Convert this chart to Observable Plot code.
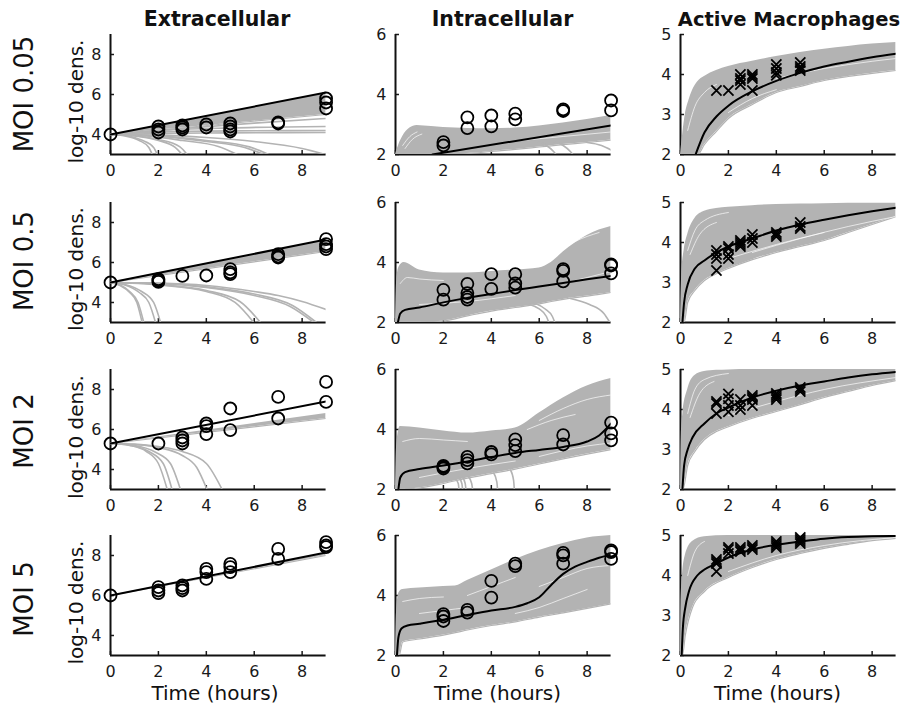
<!DOCTYPE html>
<html>
<head>
<meta charset="utf-8">
<script src="https://cdn.jsdelivr.net/npm/d3@7"></script>
<script src="https://cdn.jsdelivr.net/npm/@observablehq/plot@0.6"></script>
<style>
  html, body { margin: 0; padding: 0; background: #fff; }
  #root { position: relative; width: 913px; height: 706px; overflow: hidden; background: #fff; }
</style>
</head>
<body>
<div id="root"></div>
<script>
// ---------------- DATA ----------------
const colTitles = ["Extracellular", "Intracellular", "Active Macrophages"];
const rowTitles = ["MOI 0.05", "MOI 0.5", "MOI 2", "MOI 5"];
const xTicks = [0, 2, 4, 6, 8];
const yTicksExt = [4, 6, 8];
const yTicksInt = [2, 4, 6];
const yTicksMac = [2, 3, 4, 5];
const yDomExt = [3, 9];
const yDomInt = [2, 6];
const yDomMac = [2, 5];
const yLabel = "log-10 dens.";
const xLabel = "Time (hours)";

// ---- MOI 0.05 ----
const ext005_black = [[0,4],[9,6.1]];
const ext005_band = [[0,4,4],[4.5,4.5,5.02],[9,5.0,6.05]];
const ext005_gray = [
  [[0,4],[3,4.3],[6,4.57],[9,4.8]],
  [[0,4],[2,4.2],[5,4.33],[9,4.4]],
  [[0,4],[2,4.12],[5,4.18],[9,4.2]],
  [[0,4],[2,4.05],[5,4.08],[9,4.1]],
  [[0,4],[0.6,3.93],[1.2,3.7],[1.6,3.35],[1.74,3]],
  [[0,4],[0.7,3.94],[1.3,3.72],[1.8,3.35],[1.95,3]],
  [[0,4],[1,3.93],[2,3.7],[2.7,3.35],[2.99,3]],
  [[0,4],[1,3.94],[2,3.75],[2.9,3.38],[3.2,3]],
  [[0,4],[1.5,3.93],[3,3.7],[4.5,3.4],[5.29,3]],
  [[0,4],[2,3.92],[4,3.65],[5.6,3.35],[6.4,3]],
  [[0,4],[2,3.93],[4,3.7],[5.8,3.38],[6.6,3]],
  [[0,4],[2,3.97],[4,3.85],[6,3.65],[8,3.3],[8.97,3]]
];
const ext005_white = [];
const ext005_obs = [[0,4],[2,4.4],[2,4.25],[2,4.1],[3,4.45],[3,4.35],[3,4.25],[4,4.5],[4,4.35],[5,4.55],[5,4.4],[5,4.25],[5,4.15],[7,4.6],[7,4.55],[9,5.8],[9,5.6],[9,5.3]];

const int005_black = [[1.54,2],[9,2.97]];
const int005_band = [[0,2,2],[0.15,2,2.35],[0.3,2,2.6],[0.6,2,2.88],[0.9,2,2.97],[1.5,2,2.93],[2,2,2.9],[3,2.03,2.87],[4,2.1,2.86],[5,2.17,2.88],[6,2.25,2.95],[7,2.33,3.05],[8,2.4,3.17],[9,2.48,3.3]];
const int005_gray = [
  [[5.8,2.45],[6.3,2.3],[6.6,2.1],[6.7,2]],
  [[6.5,2.45],[7.0,2.3],[7.3,2.1],[7.4,2]],
  [[8,2.4],[8.6,2.3],[9,2.15]]
];
const int005_white = [
  [[0.3,2.3],[0.6,2.6],[0.9,2.75]],
  [[0.4,2.2],[0.7,2.5],[1.1,2.68]],
  [[5,2.45],[7,2.6],[9,2.75]]
];
const int005_obs = [[2,2.41],[2,2.3],[3,3.24],[3,2.88],[4,3.3],[4,2.94],[5,3.36],[5,3.17],[7,3.5],[7,3.45],[9,3.8],[9,3.47]];

const mac005_black = [[0.63,2],[1,2.55],[1.5,2.95],[2,3.22],[3,3.58],[4,3.84],[5,4.04],[6,4.2],[7,4.32],[8,4.43],[9,4.52]];
const mac005_band = [[0,2,2],[0.1,2,2.55],[0.2,2,3.0],[0.35,2,3.35],[0.5,2,3.6],[0.72,2,3.82],[1,2.25,3.95],[1.5,2.58,4.1],[2,2.9,4.2],[3,3.25,4.33],[4,3.55,4.45],[5,3.7,4.55],[6,3.85,4.63],[7,3.95,4.7],[8,4.03,4.76],[9,4.1,4.8]];
const mac005_gray = [];
const mac005_white = [
  [[0.3,2.6],[0.6,3.2],[1,3.55],[1.5,3.75]],
  [[2,3.05],[3,3.4],[4,3.62]],
  [[4,3.9],[6,4.15],[8,4.33],[9,4.4]]
];
const mac005_obs = [[1.5,3.6],[2,3.6],[2.5,4.0],[2.5,3.9],[2.5,3.85],[2.5,3.75],[3,4.0],[3,3.95],[3,3.9],[3,3.6],[4,4.25],[4,4.15],[4,4.05],[4,3.98],[5,4.3],[5,4.2],[5,4.15],[5,4.1]];

// ---- MOI 0.5 ----
const ext05_black = [[0,5],[9,7.15]];
const ext05_band = [[0,5,5],[9,6.55,7.12]];
const ext05_gray = [
  [[0,5],[0.4,4.85],[0.8,4.5],[1.1,4.0],[1.32,3]],
  [[0,5],[0.4,4.87],[0.8,4.55],[1.15,4.0],[1.39,3]],
  [[0,5],[0.6,4.88],[1.2,4.5],[1.6,4.0],[1.88,3]],
  [[0,5],[0.6,4.9],[1.3,4.55],[1.8,4.0],[2.09,3]],
  [[0,5],[2,4.88],[4,4.55],[5.2,4.0],[5.98,3]],
  [[0,5],[2,4.9],[4,4.6],[5.4,4.05],[6.26,3]],
  [[0,5],[2,4.95],[4,4.75],[6,4.35],[7.5,3.8],[8.49,3]],
  [[0,5],[2,4.96],[4,4.78],[6,4.42],[7.6,3.85],[8.6,3]],
  [[0,5],[2,4.97],[4,4.85],[6,4.55],[7,4.35],[8,4.05],[9,3.65]]
];
const ext05_white = [];
const ext05_obs = [[0,5],[2,5.17],[2,5.1],[2,5.03],[3,5.33],[4,5.35],[5,5.67],[5,5.5],[5,5.42],[7,6.42],[7,6.3],[7,6.25],[9,7.17],[9,6.92],[9,6.8],[9,6.67]];

const int05_black = [[0.1,2],[0.2,2.3],[0.4,2.42],[1,2.5],[2,2.67],[3,2.82],[4,2.95],[5,3.08],[6,3.2],[7,3.32],[8,3.44],[9,3.55]];
const int05_band = [[0,2,2],[0.05,2,3.4],[0.15,2,3.85],[0.35,2,4.0],[1,2,3.75],[2,2.05,3.65],[3,2.22,3.65],[4,2.38,3.7],[5,2.5,3.75],[6,2.62,3.82],[6.5,2.7,4.0],[7,2.77,4.35],[7.5,2.83,4.65],[8,2.88,4.9],[8.5,2.94,5.08],[9,3.0,5.2]];
const int05_gray = [
  [[5.6,2.6],[6.0,2.45],[6.3,2.2],[6.4,2]],
  [[5.8,2.65],[6.25,2.45],[6.55,2.2],[6.65,2]],
  [[7.3,2.8],[8.1,2.6],[8.7,2.3],[8.95,2]]
];
const int05_white = [
  [[0.2,3.3],[0.5,3.5],[1,3.45],[2,3.4]],
  [[1,2.6],[3,2.7],[5,2.9]],
  [[6.5,4.2],[7.5,4.7],[8.5,5.0]],
  [[7,3.3],[8,3.5],[9,3.7]]
];
const int05_obs = [[2,3.09],[2,2.76],[3,3.29],[3,2.98],[3,2.85],[3,2.76],[4,3.61],[4,3.12],[5,3.61],[5,3.3],[5,3.16],[7,3.78],[7,3.72],[7,3.37],[9,3.94],[9,3.9],[9,3.64]];

const mac05_black = [[0.08,2],[0.15,2.5],[0.3,2.95],[0.6,3.35],[1,3.55],[1.5,3.75],[2,3.9],[3,4.1],[4,4.3],[5,4.45],[6,4.57],[7,4.68],[8,4.78],[9,4.87]];
const mac05_band = [[0,2,2],[0.05,2,3.2],[0.15,2,3.8],[0.3,2.5,4.2],[0.6,2.8,4.6],[1,3.05,4.78],[1.5,3.22,4.85],[2,3.35,4.88],[3,3.57,4.92],[4,3.75,4.95],[5,3.9,4.96],[6,4.05,4.97],[7,4.25,4.98],[8,4.45,4.98],[9,4.65,4.98]];
const mac05_gray = [];
const mac05_white = [
  [[0.3,3.8],[0.6,4.3],[1,4.55],[2,4.75]],
  [[0.4,3.7],[0.8,4.2],[1.5,4.5]],
  [[2,3.6],[4,3.95],[6,4.25]],
  [[3,3.75],[5,4.1],[7,4.4],[9,4.65]]
];
const mac05_obs = [[1.5,3.8],[1.5,3.7],[1.5,3.6],[1.5,3.3],[2,3.9],[2,3.85],[2,3.7],[2,3.6],[2.5,4.05],[2.5,4.0],[2.5,3.95],[2.5,3.9],[3,4.2],[3,4.1],[3,4.0],[4,4.25],[4,4.2],[4,4.15],[5,4.5],[5,4.4],[5,4.35]];

// ---- MOI 2 ----
const ext2_black = [[0,5.3],[9,7.4]];
const ext2_band = [[0,5.3,5.3],[9,6.55,6.8]];
const ext2_gray = [
  [[0,5.3],[0.8,5.2],[1.5,4.9],[2.0,4.3],[2.37,3]],
  [[0,5.3],[0.8,5.22],[1.6,4.9],[2.2,4.3],[2.57,3]],
  [[0,5.3],[1,5.2],[1.9,4.85],[2.5,4.3],[2.92,3]],
  [[0,5.3],[1,5.25],[2,5.1],[3,4.7],[3.6,4.1],[4.03,3]],
  [[0,5.3],[1,5.27],[2,5.15],[3,4.9],[4,4.3],[4.66,3]]
];
const ext2_white = [];
const ext2_obs = [[0,5.3],[2,5.3],[3,5.6],[3,5.45],[3,5.3],[4,6.3],[4,6.17],[4,5.77],[5,7.05],[5,5.97],[7,7.63],[7,6.55],[9,8.38],[9,7.38]];

const int2_black = [[0.12,2],[0.2,2.4],[0.4,2.58],[1,2.68],[2,2.8],[3,2.93],[4,3.08],[5,3.22],[6,3.32],[7,3.42],[8,3.6],[8.5,3.8],[9,4.2]];
const int2_band = [[0,2,2],[0.05,2,3.5],[0.2,2,4.1],[1,2.05,4.05],[2,2.2,3.95],[3,2.38,3.88],[4,2.53,3.95],[5,2.68,4.05],[6,2.85,4.55],[7,3.02,5.05],[8,3.18,5.45],[9,3.33,5.7]];
const int2_gray = [
  [[2.5,2.35],[2.62,2.2],[2.65,2]],
  [[2.65,2.4],[2.77,2.2],[2.8,2]],
  [[2.8,2.4],[2.91,2.2],[2.94,2]],
  [[3.05,2.42],[3.18,2.2],[3.22,2]],
  [[4.1,2.55],[4.23,2.25],[4.26,2]],
  [[4.8,2.65],[4.93,2.3],[4.96,2]]
];
const int2_white = [
  [[0.3,3.6],[1,3.7],[2,3.65],[3,3.6]],
  [[1,2.4],[3,2.7],[5,2.95]],
  [[5.5,4.0],[6.5,4.3],[7.5,4.5]],
  [[6,4.3],[7,4.7],[8,5.0],[9,5.15]],
  [[6,3.1],[8,3.45],[9,3.55]]
];
const int2_obs = [[2,2.79],[2,2.75],[2,2.7],[3,3.09],[3,2.98],[3,2.87],[4,3.25],[4,3.17],[5,3.67],[5,3.48],[5,3.28],[7,3.81],[7,3.5],[9,4.23],[9,3.87],[9,3.64]];

const mac2_black = [[0.08,2],[0.15,2.6],[0.3,3.0],[0.5,3.3],[1,3.65],[1.5,3.9],[2,4.05],[3,4.3],[4,4.47],[5,4.6],[6,4.7],[7,4.8],[8,4.88],[9,4.94]];
const mac2_band = [[0,2,2],[0.03,2,3.3],[0.1,2,3.9],[0.3,2.6,4.5],[0.6,2.95,4.85],[1,3.25,4.95],[1.5,3.45,4.98],[2,3.57,4.99],[3,3.78,5],[4,3.95,5],[5,4.12,5],[6,4.3,5],[7,4.45,5],[8,4.6,5],[9,4.72,5]];
const mac2_gray = [];
const mac2_white = [
  [[0.3,3.9],[0.6,4.5],[1,4.75],[2,4.9]],
  [[0.4,3.8],[0.8,4.4],[1.4,4.7]],
  [[2,3.85],[4,4.2],[6,4.5],[9,4.8]]
];
const mac2_obs = [[1.5,4.2],[1.5,4.15],[1.5,3.9],[2,4.39],[2,4.27],[2,4.1],[2,3.94],[2.5,4.25],[2.5,4.1],[2.5,4.0],[3,4.35],[3,4.3],[3,4.25],[3,4.1],[4,4.4],[4,4.35],[4,4.3],[4,4.25],[5,4.55],[5,4.5],[5,4.45]];

// ---- MOI 5 ----
const ext5_black = [[0,6],[9,8.15]];
const ext5_band = [[0,6,6],[9,8.0,8.12]];
const ext5_gray = [];
const ext5_white = [];
const ext5_obs = [[0,6],[2,6.42],[2,6.25],[2,6.12],[3,6.5],[3,6.37],[3,6.25],[4,7.33],[4,7.17],[4,6.83],[5,7.58],[5,7.42],[5,7.17],[7,8.33],[7,7.83],[9,8.67],[9,8.5],[9,8.42]];

const int5_black = [[0.06,2],[0.12,2.6],[0.25,2.9],[0.5,3.0],[1,3.06],[2,3.19],[3,3.35],[4,3.5],[5,3.62],[5.5,3.74],[6,3.94],[6.5,4.35],[7,4.72],[7.5,4.96],[8,5.12],[8.5,5.26],[9,5.36]];
const int5_band = [[0,2,2],[0.04,2,3.4],[0.15,2,4.1],[0.3,2.45,4.2],[1,2.55,4.25],[2,2.68,4.3],[2.5,2.76,4.32],[3,2.85,4.5],[4,3.0,4.85],[5,3.12,5.2],[6,3.28,5.5],[7,3.42,5.73],[8,3.57,5.92],[9,3.72,6.0]];
const int5_gray = [];
const int5_white = [
  [[0.3,3.8],[1,3.9],[2,3.95]],
  [[1,3.4],[2,3.5],[3,3.6]],
  [[3,4.0],[4,4.3],[5,4.6]],
  [[6,4.3],[7,4.6],[8,4.9],[9,5.0]],
  [[5,3.4],[6,3.6],[7,3.9],[8,4.2]]
];
const int5_obs = [[2,3.38],[2,3.3],[2,3.15],[3,3.52],[3,3.43],[4,4.49],[4,3.93],[5,5.06],[5,4.98],[7,5.42],[7,5.34],[7,5.06],[9,5.5],[9,5.45],[9,5.22]];

const mac5_black = [[0.05,2],[0.1,2.7],[0.2,3.2],[0.35,3.6],[0.7,4.0],[1,4.15],[1.5,4.3],[2,4.45],[3,4.65],[4,4.77],[5,4.85],[6,4.92],[7,4.96],[8,4.98],[9,4.99]];
const mac5_band = [[0,2,2],[0.02,2,3.3],[0.08,2,4.0],[0.2,2.5,4.5],[0.5,3.2,4.85],[1,3.6,4.97],[2,3.95,5],[3,4.2,5],[4,4.4,5],[5,4.55,5],[6,4.68,5],[7,4.78,5],[8,4.87,5],[9,4.93,5]];
const mac5_gray = [];
const mac5_white = [
  [[0.3,4.0],[0.6,4.6],[1,4.85]],
  [[2,4.1],[4,4.5],[6,4.75],[9,4.95]]
];
const mac5_obs = [[1.5,4.4],[1.5,4.35],[1.5,4.3],[1.5,4.1],[2,4.7],[2,4.65],[2,4.55],[2.5,4.7],[2.5,4.65],[2.5,4.6],[3,4.75],[3,4.7],[3,4.65],[4,4.85],[4,4.8],[4,4.75],[4,4.7],[5,4.95],[5,4.9],[5,4.85],[5,4.8]];

// ---------------- LAYOUT ----------------
const colX = [110, 395, 680];      // pixel of x=0
const rowY = [34, 201.5, 369, 535]; // pixel of top of y-axis
const PW = 215.6, PH = 120;
const ML = 44, MR = 14, MT = 10, MB = 34;
const GRAY = "#b3b3b3";
const FONT = "DejaVu Sans, Liberation Sans, Arial, sans-serif";

const root = document.getElementById("root");

function toRows(curves) {
  const rows = [];
  curves.forEach((g, i) => g.forEach(p => rows.push({id: i, x: p[0], y: p[1]})));
  return rows;
}

function panel(row, col, yDom, yTicks, band, grays, whites, black, obs, kind) {
  const svg = Plot.plot({
    width: ML + PW + MR,
    height: MT + PH + MB,
    marginLeft: ML, marginRight: MR, marginTop: MT, marginBottom: MB,
    x: {domain: [0, 9]},
    y: {domain: yDom},
    style: {fontFamily: FONT, fontSize: "16px", color: "#1a1a1a", background: "none", overflow: "visible"},
    marks: [
      Plot.axisX({ticks: xTicks, tickSize: -4, tickPadding: 14, label: null, tickFormat: d => String(d), fontSize: 16, strokeWidth: 1.5}),
      Plot.axisY({ticks: yTicks, tickSize: -4, tickPadding: 13, label: null, tickFormat: d => String(d), fontSize: 16, strokeWidth: 1.5}),
      Plot.ruleY([yDom[0]], {stroke: "#111", strokeWidth: 2}),
      Plot.ruleX([0], {stroke: "#111", strokeWidth: 2}),
      Plot.areaY(band, {x: d => d[0], y1: d => d[1], y2: d => d[2], fill: GRAY, curve: "monotone-x", clip: true}),
      Plot.line(band, {x: d => d[0], y: d => d[1], stroke: GRAY, strokeWidth: 1.2, curve: "monotone-x", clip: true}),
      Plot.line(toRows(whites), {x: "x", y: "y", z: "id", stroke: "#fff", strokeWidth: 0.9, strokeOpacity: 0.75, curve: "monotone-x", clip: true}),
      Plot.line(toRows(grays), {x: "x", y: "y", z: "id", stroke: GRAY, strokeWidth: 1.6, curve: "monotone-x", clip: true}),
      Plot.line(black, {x: d => d[0], y: d => d[1], stroke: "#000", strokeWidth: 2, curve: "monotone-x", clip: true}),
      kind === "x"
        ? Plot.dot(obs, {x: d => d[0], y: d => d[1], symbol: "times", r: 4.7, stroke: "#000", strokeWidth: 1.8})
        : Plot.dot(obs, {x: d => d[0], y: d => d[1], symbol: "circle", r: 6, stroke: "#000", strokeWidth: 1.8, fill: "none"})
    ]
  });
  svg.style.position = "absolute";
  svg.style.left = (colX[col] - ML) + "px";
  svg.style.top = (rowY[row] - MT) + "px";
  root.appendChild(svg);
}

panel(0, 0, yDomExt, yTicksExt, ext005_band, ext005_gray, ext005_white, ext005_black, ext005_obs, "o");
panel(0, 1, yDomInt, yTicksInt, int005_band, int005_gray, int005_white, int005_black, int005_obs, "o");
panel(0, 2, yDomMac, yTicksMac, mac005_band, mac005_gray, mac005_white, mac005_black, mac005_obs, "x");
panel(1, 0, yDomExt, yTicksExt, ext05_band, ext05_gray, ext05_white, ext05_black, ext05_obs, "o");
panel(1, 1, yDomInt, yTicksInt, int05_band, int05_gray, int05_white, int05_black, int05_obs, "o");
panel(1, 2, yDomMac, yTicksMac, mac05_band, mac05_gray, mac05_white, mac05_black, mac05_obs, "x");
panel(2, 0, yDomExt, yTicksExt, ext2_band, ext2_gray, ext2_white, ext2_black, ext2_obs, "o");
panel(2, 1, yDomInt, yTicksInt, int2_band, int2_gray, int2_white, int2_black, int2_obs, "o");
panel(2, 2, yDomMac, yTicksMac, mac2_band, mac2_gray, mac2_white, mac2_black, mac2_obs, "x");
panel(3, 0, yDomExt, yTicksExt, ext5_band, ext5_gray, ext5_white, ext5_black, ext5_obs, "o");
panel(3, 1, yDomInt, yTicksInt, int5_band, int5_gray, int5_white, int5_black, int5_obs, "o");
panel(3, 2, yDomMac, yTicksMac, mac5_band, mac5_gray, mac5_white, mac5_black, mac5_obs, "x");

// ---------------- TEXT OVERLAY ----------------
const ov = d3.select(root).append("svg")
  .attr("width", 913).attr("height", 706)
  .style("position", "absolute").style("left", "0px").style("top", "0px")
  .style("pointer-events", "none")
  .attr("font-family", FONT).attr("fill", "#111");

const titleX = [217, 502.5, 789];
const titleSize = [20.5, 20.5, 19.5];
colTitles.forEach((t, i) => ov.append("text").attr("x", titleX[i]).attr("y", 26)
  .attr("text-anchor", "middle").attr("font-size", titleSize[i]).attr("font-weight", "bold").text(t));

const rowLabelY = [94, 261, 431, 599];
rowTitles.forEach((t, i) => ov.append("text")
  .attr("transform", `translate(33,${rowLabelY[i]}) rotate(-90)`)
  .attr("text-anchor", "middle").attr("font-size", 26).text(t));

const yLabY = [101.5, 269, 437, 602.5];
yLabY.forEach(y => ov.append("text")
  .attr("transform", `translate(83,${y}) rotate(-90)`)
  .attr("text-anchor", "middle").attr("font-size", 20).text(yLabel));

const xLabX = [215, 497.5, 777.5];
xLabX.forEach(x => ov.append("text").attr("x", x).attr("y", 700)
  .attr("text-anchor", "middle").attr("font-size", 20).text(xLabel));
</script>
</body>
</html>
